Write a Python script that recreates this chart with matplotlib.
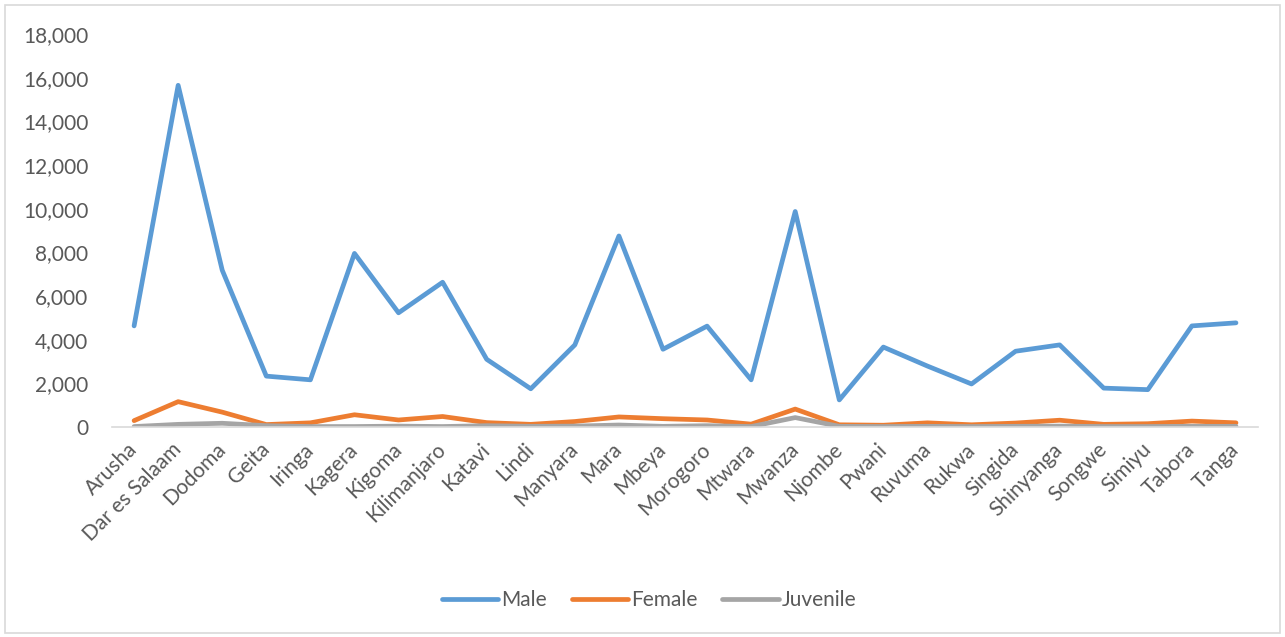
import matplotlib.pyplot as plt
from matplotlib.patches import Rectangle
from matplotlib.ticker import FuncFormatter

# Regions (x axis categories)
regions = ["Arusha", "Dar es Salaam", "Dodoma", "Geita", "Iringa", "Kagera", "Kigoma",
           "Kilimanjaro", "Katavi", "Lindi", "Manyara", "Mara", "Mbeya", "Morogoro",
           "Mtwara", "Mwanza", "Njombe", "Pwani", "Ruvuma", "Rukwa", "Singida",
           "Shinyanga", "Songwe", "Simiyu", "Tabora", "Tanga"]

# Values
male = [4630, 15650, 7180, 2330, 2160, 7950, 5230, 6630, 3100, 1750,
        3760, 8750, 3560, 4620, 2160, 9870, 1240, 3660, 2790, 1970,
        3470, 3760, 1780, 1710, 4630, 4770]
female = [290, 1160, 680, 110, 190, 560, 320, 480, 200, 120,
          250, 460, 380, 320, 130, 820, 100, 80, 190, 100,
          180, 310, 120, 150, 270, 190]
juvenile = [20, 120, 170, 60, 20, 20, 40, 20, 60, 30,
            40, 90, 30, 60, 20, 430, 30, 20, 30, 20,
            30, 40, 20, 20, 30, 30]

series_names = ["Male", "Female", "Juvenile"]
series_colors = ["#5B9BD5", "#ED7D31", "#A5A5A5"]

plt.rcParams['font.family'] = ['Lato', 'DejaVu Sans']
text_color = "#595959"

fig = plt.figure(figsize=(12.85, 6.37), dpi=100)
ax = fig.add_axes([0.0872, 0.3297, 0.8918, 0.6169])

x = range(len(regions))
for vals, name, col in zip([male, female, juvenile], series_names, series_colors):
    ax.plot(x, vals, color=col, lw=3.4, label=name,
            solid_capstyle='round', solid_joinstyle='round')

ax.set_xlim(-0.5, len(regions) - 0.5)
ax.set_ylim(0, 18000)
ax.set_yticks(range(0, 18001, 2000))
ax.yaxis.set_major_formatter(FuncFormatter(lambda v, p: f"{int(v):,}"))

ax.set_xticks(list(x))
ax.set_xticklabels(regions, rotation=45, ha='right', va='center',
                   rotation_mode='anchor')

for s in ['top', 'right', 'left']:
    ax.spines[s].set_visible(False)
ax.spines['bottom'].set_color('#D9D9D9')
ax.spines['bottom'].set_linewidth(1.2)
ax.tick_params(axis='both', length=0, labelsize=15, colors=text_color)
ax.tick_params(axis='x', pad=14)
ax.tick_params(axis='y', pad=17)

leg = fig.legend(loc='center', bbox_to_anchor=(0.505, 0.058), ncol=3, frameon=False,
                 fontsize=15, handlelength=2.7, handletextpad=0.15,
                 columnspacing=1.2)
for t in leg.get_texts():
    t.set_color(text_color)

# chart border
fig.patches.append(Rectangle((0.004, 0.006), 0.992, 0.986, transform=fig.transFigure,
                             fill=False, edgecolor='#D9D9D9', lw=1.2))

fig.savefig("out.png", dpi=100)
